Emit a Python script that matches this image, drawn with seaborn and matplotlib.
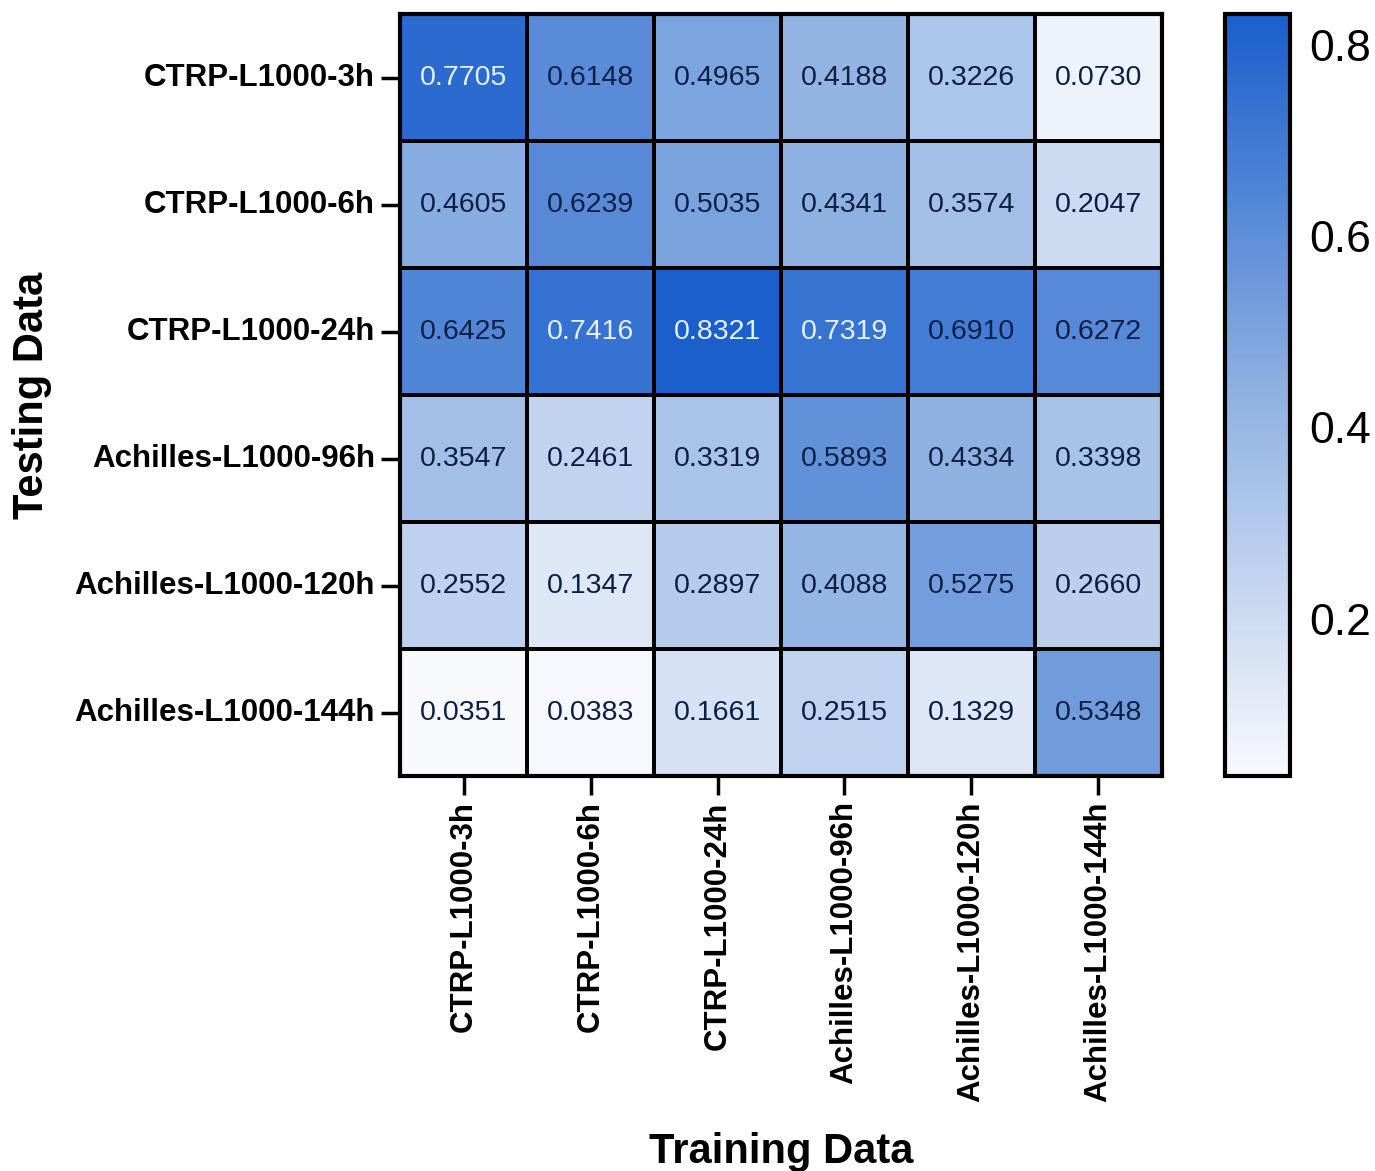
import numpy as np
import pandas as pd
import matplotlib
matplotlib.use('Agg')
import matplotlib.pyplot as plt
import seaborn as sns
from matplotlib.colors import LinearSegmentedColormap

# datasets (rows = testing, cols = training)
train_labels = ['CTRP-L1000-3h', 'CTRP-L1000-6h', 'CTRP-L1000-24h',
                'Achilles-L1000-96h', 'Achilles-L1000-120h', 'Achilles-L1000-144h']
test_labels = ['CTRP-L1000-3h', 'CTRP-L1000-6h', 'CTRP-L1000-24h',
               'Achilles-L1000-96h', 'Achilles-L1000-120h', 'Achilles-L1000-144h']

row_3h = [0.7705, 0.6148, 0.4965, 0.4188, 0.3226, 0.0730]
row_6h = [0.4605, 0.6239, 0.5035, 0.4341, 0.3574, 0.2047]
row_24h = [0.6425, 0.7416, 0.8321, 0.7319, 0.6910, 0.6272]
row_96h = [0.3547, 0.2461, 0.3319, 0.5893, 0.4334, 0.3398]
row_120h = [0.2552, 0.1347, 0.2897, 0.4088, 0.5275, 0.2660]
row_144h = [0.0351, 0.0383, 0.1661, 0.2515, 0.1329, 0.5348]

df = pd.DataFrame([row_3h, row_6h, row_24h, row_96h, row_120h, row_144h],
                  index=test_labels, columns=train_labels)

sns.set_theme(style='white')
plt.rcParams['font.family'] = ['Liberation Sans', 'DejaVu Sans']
plt.rcParams['text.color'] = 'black'
plt.rcParams['xtick.color'] = 'black'
plt.rcParams['ytick.color'] = 'black'
plt.rcParams['axes.labelcolor'] = 'black'

cmap = LinearSegmentedColormap.from_list('blues', ['#f8f9fd', '#8fb1e2', '#1a5fcc'])

fig = plt.figure(figsize=(13.75, 11.71), dpi=100)
ax = fig.add_axes([0.291, 0.337, 0.554, 0.651])
cax = fig.add_axes([0.891, 0.337, 0.047, 0.651])

sns.heatmap(df, ax=ax, cbar_ax=cax, cmap=cmap, vmin=df.values.min(), vmax=df.values.max(),
            annot=True, fmt='.4f', annot_kws={'fontsize': 20.5},
            linewidths=1.5, linecolor='black', square=False)

# text color: light on dark cells
for t in ax.texts:
    v = float(t.get_text())
    t.set_color('#e8f0ff' if v > 0.7 else '#0d1e45')

for s in ax.spines.values():
    s.set_visible(True)
    s.set_linewidth(3)
    s.set_color('black')

ax.tick_params(axis='both', which='both', length=14, width=2.5, color='black',
               bottom=True, left=True, pad=4)
ax.set_xticklabels(train_labels, rotation=90, fontsize=22.5, fontweight='bold')
ax.set_yticklabels(test_labels, rotation=0, fontsize=22.5, fontweight='bold')
ax.set_xlabel('Training Data', fontsize=30, fontweight='bold', labelpad=22)
ax.set_ylabel('Testing Data', fontsize=30, fontweight='bold', labelpad=16)

cbar = ax.collections[0].colorbar
cbar.outline.set_linewidth(3)
cbar.outline.set_edgecolor('black')
cbar.set_ticks([0.2, 0.4, 0.6, 0.8])
cbar.set_ticklabels(['0.2', '0.4', '0.6', '0.8'])
cax.tick_params(axis='y', direction='in', left=True, right=True, length=9, width=2.5,
                labelsize=32, pad=14, color='black')

fig.savefig('out.png', dpi=100)
